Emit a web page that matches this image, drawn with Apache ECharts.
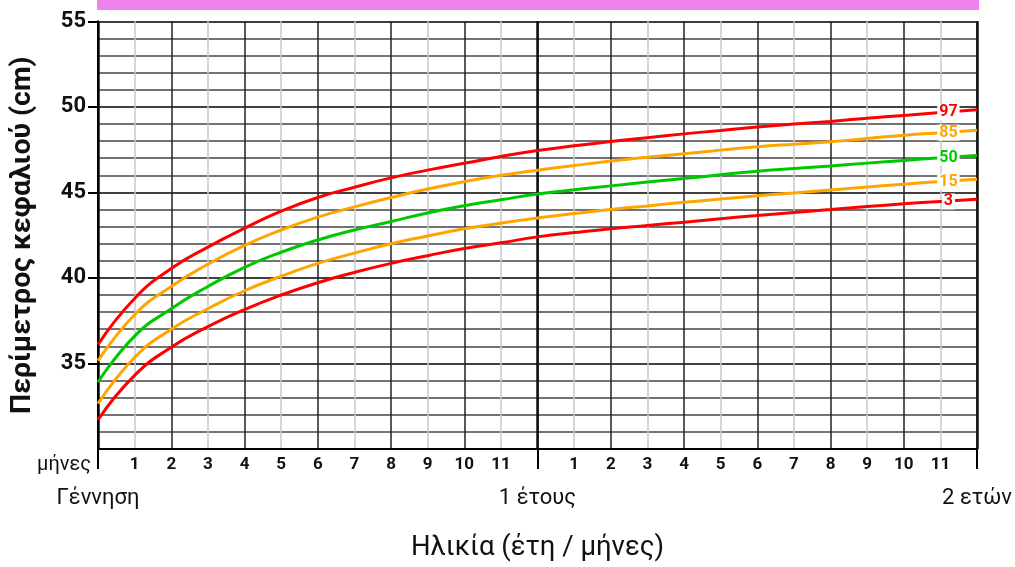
<!DOCTYPE html>
<html>
<head>
<meta charset="utf-8">
<script src="https://cdn.jsdelivr.net/npm/echarts@6/dist/echarts.min.js"></script>
<style>html,body{margin:0;padding:0;background:#fff}#c{width:1015px;height:567px}</style>
</head>
<body>
<div id="c"></div>
<script>
// Months 0..24
const months = [0,1,2,3,4,5,6,7,8,9,10,11,12,13,14,15,16,17,18,19,20,21,22,23,24];
const p97 = [36.1, 38.8, 40.55, 41.8, 42.9, 43.9, 44.7, 45.3, 45.85, 46.3, 46.7, 47.1, 47.45, 47.72, 47.97, 48.2, 48.42, 48.62, 48.82, 48.99, 49.15, 49.33, 49.5, 49.67, 49.83];
const p85 = [35.15, 37.85, 39.5, 40.8, 41.9, 42.8, 43.55, 44.15, 44.7, 45.2, 45.62, 46.0, 46.3, 46.57, 46.83, 47.05, 47.26, 47.47, 47.67, 47.82, 47.96, 48.15, 48.34, 48.49, 48.63];
const p50 = [33.9, 36.6, 38.2, 39.5, 40.62, 41.5, 42.22, 42.8, 43.3, 43.8, 44.22, 44.57, 44.9, 45.15, 45.38, 45.6, 45.81, 46.03, 46.24, 46.39, 46.54, 46.71, 46.87, 47.02, 47.16];
const p15 = [32.65, 35.35, 37.0, 38.2, 39.25, 40.1, 40.85, 41.45, 42.0, 42.45, 42.87, 43.2, 43.5, 43.76, 44.0, 44.21, 44.42, 44.61, 44.8, 44.97, 45.14, 45.31, 45.48, 45.63, 45.77];
const p3  = [31.7, 34.3, 35.95, 37.15, 38.15, 39.0, 39.72, 40.32, 40.85, 41.3, 41.72, 42.05, 42.4, 42.65, 42.88, 43.07, 43.26, 43.46, 43.65, 43.83, 44.0, 44.17, 44.33, 44.47, 44.6];
const percentileNames = ['3', '15', '50', '85', '97'];
const yTickValues = [35, 40, 45, 50, 55];
const yearTickValues = [0, 12, 24];
const yearLabels = ['Γέννηση', '1 έτους', '2 ετών'];
const monthsWord = 'μήνες';
const xTitle = 'Ηλικία (έτη / μήνες)';
const yTitle = 'Περίμετρος κεφαλιού (cm)';

const FONT = 'Roboto';
const colors = {'3': '#ff0000', '15': '#ffa500', '50': '#00c800', '85': '#ffa500', '97': '#ff0000'};
const seriesValues = {'3': p3, '15': p15, '50': p50, '85': p85, '97': p97};
const labelIndex = 23;

function buildSeries(name) {
  const vals = seriesValues[name];
  const data = months.map((m, i) => {
    if (i === labelIndex) {
      return {
        value: [m, vals[i]],
        label: {
          show: true,
          position: 'inside',
          offset: [8, 0],
          formatter: name,
          color: colors[name],
          fontFamily: FONT,
          fontWeight: 'bold',
          fontSize: 16,
          backgroundColor: '#fff',
          padding: [0, 2, 0, 2]
        }
      };
    }
    return [m, vals[i]];
  });
  return {
    name: name,
    type: 'line',
    xAxisIndex: 0,
    yAxisIndex: 0,
    data: data,
    smooth: 0.5,
    symbol: 'circle',
    symbolSize: 0,
    showSymbol: true,
    lineStyle: {color: colors[name], width: 3},
    itemStyle: {color: colors[name]},
    emphasis: {disabled: true},
    z: 5
  };
}

const chart = echarts.init(document.getElementById('c'), null, {renderer: 'canvas'});
chart.setOption({
  animation: false,
  backgroundColor: '#fff',
  grid: {left: 97.7, right: 35.7, top: 21.3, bottom: 114.6, containLabel: false},
  graphic: [{
    type: 'rect',
    shape: {x: 97, y: 0, width: 882, height: 10},
    style: {fill: '#ee82ee'},
    silent: true
  }],
  xAxis: [
    {
      type: 'value', position: 'bottom', min: 0, max: 24, interval: 1,
      axisLine: {show: true, onZero: false, lineStyle: {color: '#000', width: 2}},
      axisTick: {show: false},
      splitLine: {show: true, lineStyle: {color: ['#222', '#c8c8c8'], width: 1.5}},
      axisLabel: {
        show: true, margin: 7, showMinLabel: true, showMaxLabel: true,
        color: '#111', fontFamily: FONT, fontSize: 17, fontWeight: 'bold',
        formatter: function (v) {
          if (v % 12 === 0) return '';
          return String(v % 12);
        }
      },
      name: xTitle, nameLocation: 'middle', nameGap: 85,
      nameTextStyle: {fontFamily: FONT, fontSize: 27.5, fontWeight: 'normal', color: '#111'}
    },
    {
      type: 'value', position: 'bottom', min: 0, max: 24, interval: 12,
      axisLine: {show: false},
      axisTick: {show: true, customValues: yearTickValues, length: 20, inside: false, lineStyle: {color: '#000', width: 2}},
      splitLine: {show: false},
      axisLabel: {
        show: true, customValues: yearTickValues, margin: 38, showMinLabel: true, showMaxLabel: true,
        color: '#111', fontFamily: FONT, fontSize: 22, fontWeight: 'normal',
        formatter: function (v) { return yearLabels[Math.round(v / 12)]; }
      }
    },
    {
      type: 'value', position: 'bottom', min: 0, max: 24, interval: 12,
      axisLine: {show: false}, axisTick: {show: false}, axisLabel: {show: false},
      splitLine: {show: true, lineStyle: {color: '#111', width: 2.5}}
    },
    {
      type: 'value', position: 'bottom', min: 0, max: 24, interval: 12,
      axisLine: {show: false}, axisTick: {show: false}, splitLine: {show: false},
      axisLabel: {
        show: true, customValues: [0], showMinLabel: true, margin: 6, align: 'right',
        padding: [0, 7, 0, 0], color: '#111', fontFamily: FONT, fontSize: 20, fontWeight: 'normal',
        formatter: function () { return monthsWord; }
      }
    }
  ],
  yAxis: [
    {
      type: 'value', position: 'left', min: 30, max: 55, interval: 1,
      axisLine: {show: true, lineStyle: {color: '#000', width: 2}},
      axisTick: {show: false},
      axisLabel: {show: false},
      splitLine: {show: true, lineStyle: {color: ['#000', '#444', '#444', '#444', '#444'], width: 1.5}},
      name: yTitle, nameLocation: 'middle', nameGap: 61,
      nameTextStyle: {fontFamily: FONT, fontSize: 28.5, fontWeight: 'bold', color: '#111'}
    },
    {
      type: 'value', position: 'left', min: 30, max: 55, interval: 5,
      axisLine: {show: false},
      axisTick: {show: true, customValues: yTickValues, length: 10, lineStyle: {color: '#000', width: 2}},
      splitLine: {show: false},
      axisLabel: {show: true, customValues: yTickValues, margin: 12, color: '#111', fontFamily: FONT, fontSize: 22, fontWeight: 'bold'}
    }
  ],
  series: percentileNames.map(buildSeries)
});
</script>
</body>
</html>
